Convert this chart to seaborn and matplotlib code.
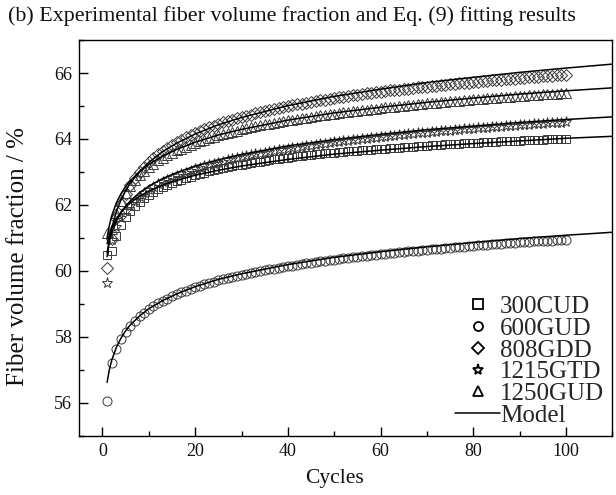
import numpy as np
import pandas as pd
import matplotlib
matplotlib.use("Agg")
import matplotlib.pyplot as plt
import seaborn as sns
from matplotlib.lines import Line2D
from matplotlib.ticker import MultipleLocator

# ---------------- data ----------------
cycles = list(range(1, 101))

c300 = [60.48, 60.60, 61.07, 61.38, 61.62, 61.81, 61.96, 62.09, 62.20, 62.30,
        62.39, 62.47, 62.54, 62.60, 62.66, 62.72, 62.77, 62.82, 62.86, 62.90,
        62.94, 62.98, 63.02, 63.05, 63.08, 63.11, 63.14, 63.17, 63.20, 63.22,
        63.25, 63.27, 63.29, 63.31, 63.34, 63.36, 63.38, 63.40, 63.41, 63.43,
        63.45, 63.47, 63.48, 63.50, 63.51, 63.53, 63.54, 63.56, 63.57, 63.58,
        63.60, 63.61, 63.62, 63.63, 63.64, 63.66, 63.67, 63.68, 63.69, 63.70,
        63.71, 63.72, 63.73, 63.74, 63.75, 63.76, 63.77, 63.78, 63.79, 63.80,
        63.81, 63.82, 63.83, 63.84, 63.84, 63.85, 63.86, 63.87, 63.88, 63.88,
        63.89, 63.90, 63.91, 63.91, 63.92, 63.93, 63.93, 63.94, 63.95, 63.95,
        63.96, 63.96, 63.97, 63.98, 63.98, 63.99, 63.99, 64.00, 64.00, 64.01]

c600 = [56.05, 57.20, 57.62, 57.92, 58.15, 58.33, 58.48, 58.62, 58.73, 58.84,
        58.93, 59.01, 59.09, 59.16, 59.23, 59.29, 59.35, 59.40, 59.45, 59.50,
        59.55, 59.59, 59.63, 59.67, 59.71, 59.75, 59.78, 59.81, 59.85, 59.88,
        59.91, 59.94, 59.97, 59.99, 60.02, 60.05, 60.07, 60.09, 60.12, 60.14,
        60.16, 60.19, 60.21, 60.23, 60.25, 60.27, 60.29, 60.30, 60.32, 60.34,
        60.36, 60.38, 60.39, 60.41, 60.43, 60.44, 60.46, 60.47, 60.49, 60.50,
        60.52, 60.53, 60.55, 60.56, 60.57, 60.59, 60.60, 60.61, 60.63, 60.64,
        60.65, 60.66, 60.67, 60.69, 60.70, 60.71, 60.72, 60.73, 60.74, 60.76,
        60.77, 60.78, 60.79, 60.80, 60.81, 60.82, 60.83, 60.84, 60.85, 60.86,
        60.87, 60.88, 60.89, 60.89, 60.90, 60.91, 60.92, 60.93, 60.94, 60.95]

c808 = [60.08, 60.96, 61.59, 62.02, 62.34, 62.60, 62.82, 63.00, 63.16, 63.30,
        63.43, 63.54, 63.64, 63.74, 63.82, 63.91, 63.98, 64.05, 64.12, 64.18,
        64.24, 64.30, 64.35, 64.40, 64.45, 64.50, 64.54, 64.58, 64.63, 64.66,
        64.70, 64.74, 64.78, 64.81, 64.84, 64.87, 64.90, 64.94, 64.96, 64.99,
        65.02, 65.05, 65.07, 65.10, 65.12, 65.15, 65.17, 65.19, 65.22, 65.24,
        65.26, 65.28, 65.30, 65.32, 65.34, 65.36, 65.38, 65.40, 65.42, 65.43,
        65.45, 65.47, 65.48, 65.50, 65.52, 65.53, 65.55, 65.57, 65.58, 65.59,
        65.61, 65.62, 65.64, 65.65, 65.66, 65.68, 65.69, 65.70, 65.71, 65.73,
        65.74, 65.75, 65.76, 65.78, 65.79, 65.80, 65.81, 65.82, 65.83, 65.85,
        65.86, 65.87, 65.88, 65.89, 65.90, 65.91, 65.92, 65.93, 65.94, 65.95]

c1215 = [59.62, 60.95, 61.33, 61.60, 61.81, 61.98, 62.12, 62.24, 62.35, 62.45,
         62.54, 62.62, 62.69, 62.76, 62.82, 62.88, 62.93, 62.98, 63.03, 63.08,
         63.12, 63.17, 63.20, 63.24, 63.28, 63.31, 63.35, 63.38, 63.41, 63.44,
         63.47, 63.50, 63.53, 63.55, 63.58, 63.61, 63.63, 63.65, 63.68, 63.70,
         63.72, 63.74, 63.76, 63.78, 63.80, 63.82, 63.84, 63.86, 63.88, 63.90,
         63.91, 63.93, 63.95, 63.96, 63.98, 63.99, 64.01, 64.02, 64.04, 64.06,
         64.07, 64.08, 64.10, 64.11, 64.13, 64.14, 64.15, 64.17, 64.18, 64.19,
         64.20, 64.22, 64.23, 64.24, 64.25, 64.27, 64.28, 64.29, 64.30, 64.31,
         64.32, 64.33, 64.34, 64.35, 64.36, 64.37, 64.38, 64.39, 64.40, 64.41,
         64.42, 64.43, 64.44, 64.45, 64.46, 64.47, 64.48, 64.49, 64.49, 64.50]

c1250 = [61.15, 61.26, 61.76, 62.11, 62.37, 62.58, 62.75, 62.90, 63.03, 63.15,
         63.25, 63.35, 63.43, 63.51, 63.58, 63.65, 63.71, 63.77, 63.83, 63.88,
         63.93, 63.98, 64.02, 64.07, 64.11, 64.15, 64.18, 64.22, 64.25, 64.29,
         64.32, 64.35, 64.38, 64.41, 64.44, 64.46, 64.49, 64.52, 64.54, 64.56,
         64.59, 64.61, 64.63, 64.65, 64.68, 64.70, 64.72, 64.74, 64.75, 64.77,
         64.79, 64.81, 64.83, 64.84, 64.86, 64.88, 64.89, 64.91, 64.92, 64.94,
         64.96, 64.97, 64.98, 65.00, 65.01, 65.03, 65.04, 65.05, 65.07, 65.08,
         65.09, 65.10, 65.12, 65.13, 65.14, 65.15, 65.16, 65.17, 65.18, 65.20,
         65.21, 65.22, 65.23, 65.24, 65.25, 65.26, 65.27, 65.28, 65.29, 65.30,
         65.31, 65.32, 65.33, 65.34, 65.35, 65.36, 65.36, 65.37, 65.38, 65.39]

# model (Eq. 9) curves
x_model = [1, 1.5, 2, 3, 4, 5, 6, 8, 10, 13, 16, 20, 25, 30, 40, 50, 60, 70, 80, 90, 100, 110]
m808 = [60.43, 60.93, 61.29, 61.80, 62.15, 62.43, 62.66, 63.01, 63.29, 63.62, 63.87,
        64.15, 64.43, 64.65, 65.01, 65.29, 65.51, 65.71, 65.87, 66.02, 66.15, 66.27]
m1250 = [61.00, 61.39, 61.67, 62.06, 62.34, 62.56, 62.73, 63.01, 63.23, 63.48, 63.68,
         63.90, 64.12, 64.29, 64.57, 64.79, 64.96, 65.11, 65.24, 65.36, 65.46, 65.55]
m1215 = [60.55, 60.91, 61.16, 61.51, 61.77, 61.96, 62.12, 62.37, 62.57, 62.80, 62.98,
         63.18, 63.37, 63.53, 63.79, 63.98, 64.14, 64.28, 64.39, 64.50, 64.59, 64.67]
m300 = [60.82, 61.10, 61.30, 61.58, 61.78, 61.94, 62.06, 62.26, 62.42, 62.60, 62.74,
        62.90, 63.05, 63.18, 63.38, 63.54, 63.66, 63.77, 63.86, 63.94, 64.02, 64.08]
m600 = [56.62, 57.01, 57.29, 57.68, 57.96, 58.18, 58.36, 58.63, 58.85, 59.10, 59.30,
        59.52, 59.74, 59.91, 60.19, 60.41, 60.58, 60.73, 60.86, 60.98, 61.08, 61.17]

labels = ["300CUD", "600GUD", "808GDD", "1215GTD", "1250GUD"]
markers = ["s", "o", "D", "*", "^"]
msizes = [6.0, 6.5, 6.0, 8.0, 6.5]
data_series = [c300, c600, c808, c1215, c1250]
model_series = [m300, m600, m808, m1215, m1250]

# ---------------- style ----------------
sns.set_theme(style="ticks")
plt.rcParams["font.family"] = ["Liberation Serif", "DejaVu Serif"]
plt.rcParams["mathtext.fontset"] = "stix"

fig = plt.figure(figsize=(6.16, 4.95), dpi=100)
ax = fig.add_axes([0.1287, 0.1198, 0.8653, 0.7993])

edge = "#3a3a3a"
for vals, m, ms in zip(data_series, markers, msizes):
    sns.lineplot(x=cycles, y=vals, ax=ax, marker=m, linestyle="", mfc="none",
                 mec=edge, mew=0.7, ms=ms, estimator=None, legend=False)

for mvals in model_series:
    sns.lineplot(x=x_model, y=mvals, ax=ax, color="black", lw=1.1,
                 estimator=None, legend=False)

ax.set_xlim(-5, 110)
ax.set_ylim(55, 67)
ax.xaxis.set_major_locator(MultipleLocator(20))
ax.xaxis.set_minor_locator(MultipleLocator(10))
ax.yaxis.set_major_locator(MultipleLocator(2))
ax.yaxis.set_minor_locator(MultipleLocator(1))
ax.tick_params(which="both", direction="in", top=False, right=False,
               color="black", width=1.0, labelsize=13, labelcolor="#111111")
ax.tick_params(which="major", length=6.5, pad=5)
ax.tick_params(which="minor", length=3.5)
for s in ax.spines.values():
    s.set_visible(True)
    s.set_color("black")
    s.set_linewidth(1.0)

ax.set_xlabel("Cycles", fontsize=15.5, color="#111111")
ax.xaxis.set_label_coords(55 / 115, -0.085)
ax.set_ylabel("Fiber volume fraction / %", fontsize=18, color="#111111")
ax.yaxis.set_label_coords(-0.094, 0.452)

fig.text(0.013, 0.968, "(b) Experimental fiber volume fraction and Eq. (9) fitting results",
         fontsize=15.8, va="center", ha="left", color="#111111")

handles = [Line2D([], [], marker=m, ls="", mfc="none", mec="black", mew=1.3,
                  ms=6.5 if m != "*" else 8) for m in markers]
handles.append(Line2D([], [], color="black", lw=1.1))
ax.legend(handles, labels + ["Model"], loc="lower right", bbox_to_anchor=(0.985, 0.022),
          frameon=False, fontsize=18, handlelength=1.8, handletextpad=0.0,
          labelspacing=-0.03, borderpad=0.0, borderaxespad=0.0)

fig.savefig("out.png", dpi=100)
